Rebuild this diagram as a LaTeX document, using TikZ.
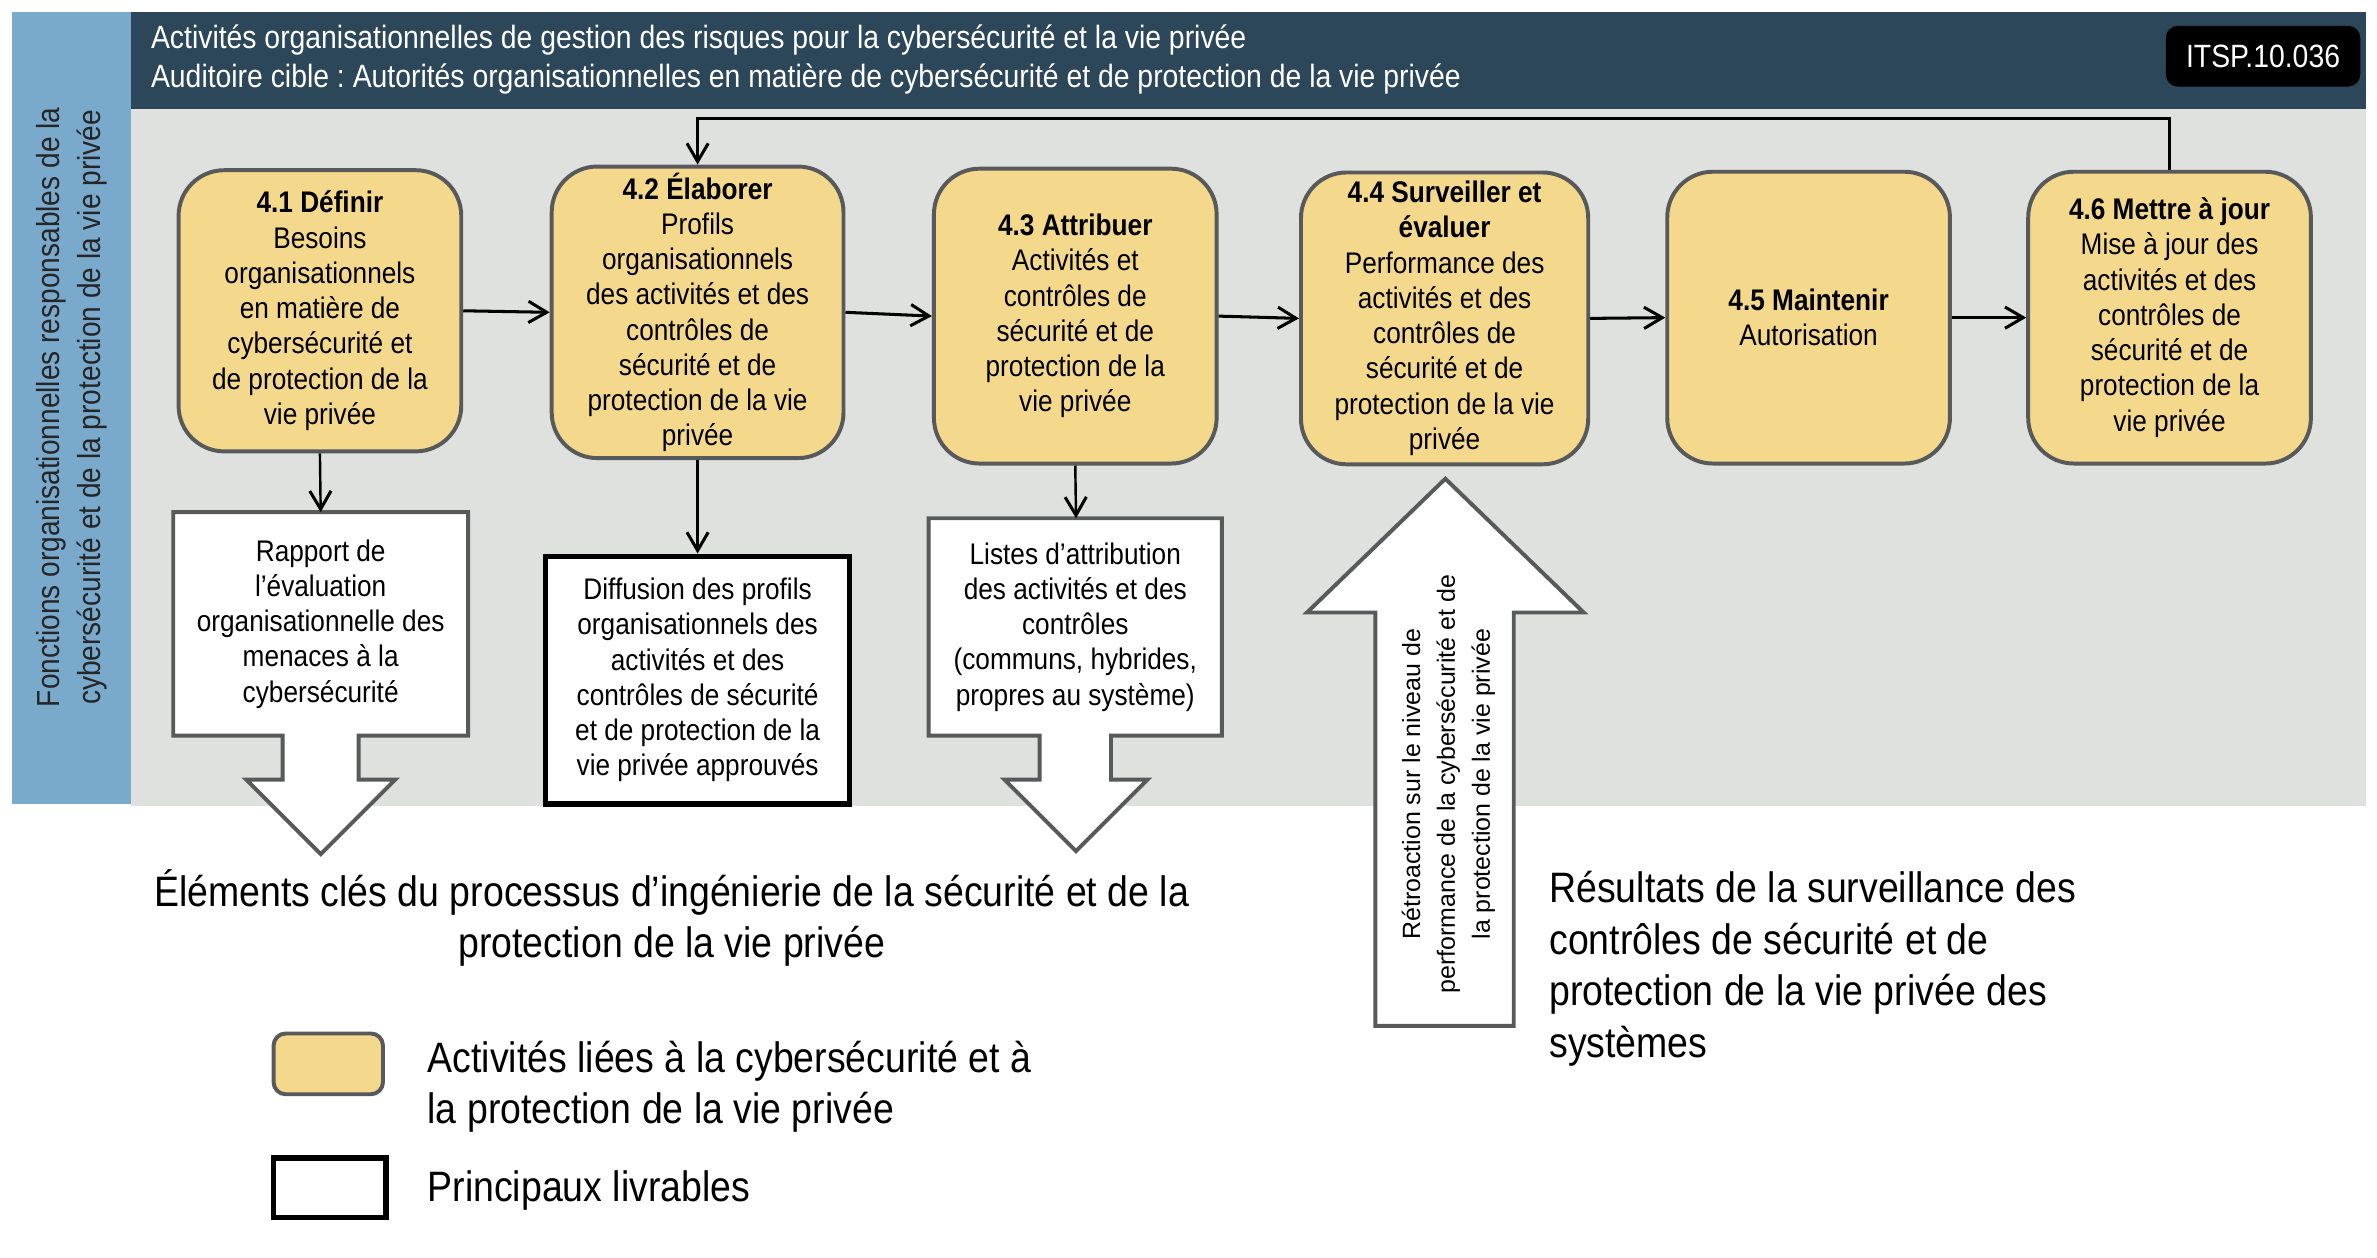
\documentclass[tikz,border=0pt]{standalone}
\usepackage{fontspec}
\setmainfont{Liberation Sans}[FakeStretch=0.88]
\newfontfamily\largesans{Liberation Sans}
\usetikzlibrary{positioning,arrows.meta}
\frenchspacing

\definecolor{entete}{HTML}{2C4759}
\definecolor{bandeau}{HTML}{79AACB}
\definecolor{fond}{HTML}{DFE1DE}
\definecolor{jaune}{HTML}{F4D88C}
\definecolor{bordure}{HTML}{58595B}

\begin{document}
\begin{tikzpicture}[x=0.5pt,y=-0.5pt,
		activite/.style={draw=bordure,line width=1.3pt,fill=jaune,rounded corners=15pt,
			minimum width=93pt,minimum height=96pt,align=center,inner sep=2pt,
			font=\fontsize{9.8}{11.6}\selectfont},
		livrable/.style={align=center,inner sep=2pt,font=\fontsize{9.8}{11.6}\selectfont},
		contour/.style={draw=bordure,line width=1.3pt,fill=white,line join=miter},
		fleche/.style={-{Straight Barb[length=6pt,width=7pt,line width=1pt]},line width=1pt},
		legende/.style={anchor=west,align=left,inner sep=0pt,font=\fontsize{14}{17}\selectfont}]
		\useasboundingbox (0,0) rectangle (1564,827.7);
		% fonds
		\fill[bandeau] (8,8) rectangle (86,529);
		\fill[entete] (86,8) rectangle (1557,72);
		\fill[fond] (86,72) rectangle (1557,530);
		\node[anchor=west,align=left,text=white,inner sep=0pt,font=\fontsize{10.6}{13}\selectfont] (titre) at (99,39)
			{Activités organisationnelles de gestion des risques pour la cybersécurité et la vie privée\\
			Auditoire cible : Autorités organisationnelles en matière de cybersécurité et de protection de la vie privée};
		\node[fill=black,text=white,rounded corners=4pt,minimum width=64pt,minimum height=20pt,
			font=\fontsize{10.6}{13}\selectfont] (code) at (1489,37) {ITSP.10.036};
		\node[rotate=90,align=center,text=black!85,font=\fontsize{10.5}{13.5}\selectfont] (fonctions) at (47,268)
			{Fonctions organisationnelles responsables de la\\cybersécurité et de la protection de la vie privée};
		% activites
		\node[activite,minimum height=92.5pt] (a1) at (210.5,204.5)
			{\textbf{4.1 Définir}\\Besoins\\organisationnels\\en matière de\\cybersécurité et\\de protection de la\\vie privée};
		\node[activite,minimum width=96pt,minimum height=94.5pt] (a2) at (459,205.5)
			{\textbf{4.2 Élaborer}\\Profils\\organisationnels\\des activités et des\\contrôles de\\sécurité et de\\protection de la vie\\privée};
		\node[activite,minimum height=97pt] (a3) at (707.5,208)
			{\textbf{4.3 Attribuer}\\Activités et\\contrôles de\\sécurité et de\\protection de la\\vie privée};
		\node[activite,minimum width=94.5pt] (a4) at (950.5,209.5)
			{\textbf{4.4 Surveiller et}\\\textbf{évaluer}\\Performance des\\activités et des\\contrôles de\\sécurité et de\\protection de la vie\\privée};
		\node[activite] (a5) at (1190,209) {\textbf{4.5 Maintenir}\\Autorisation};
		\node[activite] (a6) at (1427.5,209)
			{\textbf{4.6 Mettre à jour}\\Mise à jour des\\activités et des\\contrôles de\\sécurité et de\\protection de la\\vie privée};
		\foreach \i/\j in {a1/a2,a2/a3,a3/a4,a4/a5,a5/a6}
			\draw[fleche] (\i.east) -- (\j.west);
		\coordinate (haut) at (459,78);
		\draw[fleche] (a6.north) |- (haut) -- (a2.north);
		% livrables
		\draw[contour] (114,337) -- (308,337) -- (308,484) -- (236,484) -- (236,513) -- (260,513)
			-- (211,562) -- (162,513) -- (186,513) -- (186,484) -- (114,484) -- cycle;
		\node[livrable] (d1) at (211,410.5)
			{Rapport de\\l’évaluation\\organisationnelle des\\menaces à la\\cybersécurité};
		\node[livrable,draw=black,line width=1.8pt,fill=white,minimum width=100pt,minimum height=81.5pt] (d2) at (459,447.5)
			{Diffusion des profils\\organisationnels des\\activités et des\\contrôles de sécurité\\et de protection de la\\vie privée approuvés};
		\draw[contour] (611,341) -- (804,341) -- (804,484) -- (731,484) -- (731,513) -- (755,513)
			-- (708,560) -- (661,513) -- (684,513) -- (684,484) -- (611,484) -- cycle;
		\node[livrable] (d3) at (707.5,412.5)
			{Listes d’attribution\\des activités et des\\contrôles\\(communs, hybrides,\\propres au système)};
		\coordinate (d1haut) at (211,337);
		\coordinate (d3haut) at (708,341);
		\draw[fleche,line width=0.8pt] (a1.south) -- (d1haut);
		\draw[fleche,line width=0.8pt] (a2.south) -- (d2.north);
		\draw[fleche,line width=0.8pt] (a3.south) -- (d3haut);
		% retroaction
		\draw[contour] (905,675) -- (905,403) -- (860,403) -- (951,315) -- (1042,403) -- (996,403) -- (996,675) -- cycle;
		\node[rotate=90,align=center,font=\largesans\fontsize{8.2}{11.5}\selectfont] (retro) at (953,516)
			{Rétroaction sur le niveau de\\performance de la cybersécurité et de\\la protection de la vie privée};
		% textes et legende
		\node[align=center,inner sep=0pt,font=\fontsize{14}{17}\selectfont] (cles) at (442,604)
			{Éléments clés du processus d’ingénierie de la sécurité et de la\\protection de la vie privée};
		\node[legende] (resultats) at (1019,637.5)
			{Résultats de la surveillance des\\contrôles de sécurité et de\\protection de la vie privée des\\systèmes};
		\node[draw=bordure,line width=1.3pt,fill=jaune,rounded corners=4pt,minimum width=36pt,minimum height=20pt] (legjaune) at (216,700) {};
		\node[legende] (legact) at (281,715) {Activités liées à la cybersécurité et à\\la protection de la vie privée};
		\node[draw=black,line width=1.8pt,minimum width=37pt,minimum height=19.5pt] (legblanc) at (217,781.5) {};
		\node[legende] (legliv) at (281,783) {Principaux livrables};
	\end{tikzpicture}
\end{document}
